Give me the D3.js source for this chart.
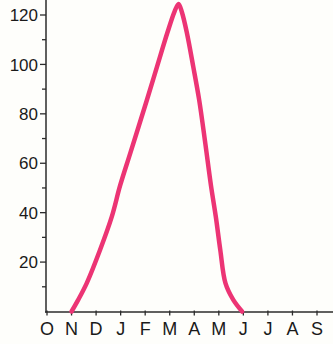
<!DOCTYPE html>
<html>
<head>
<meta charset="utf-8">
<script src="https://cdn.jsdelivr.net/npm/d3@7"></script>
<style>
  html, body { margin: 0; padding: 0; background: #fefefb; }
  svg { display: block; }
</style>
</head>
<body>
<div id="chart"></div>
<script>
// month labels along the bottom, Oct .. Sep
const months = ["O", "N", "D", "J", "F", "M", "A", "M", "J", "J", "A", "S"];
const yTicks = [20, 40, 60, 80, 100, 120];

// curve: position in months (O = 0) and value
const curveMonth = [1.0, 1.27, 1.62, 2.16, 2.64, 2.98, 3.39, 4.07, 4.48, 4.9, 5.2, 5.36, 5.5, 5.70, 5.96, 6.20, 6.45, 6.68, 6.88, 7.06, 7.27, 7.59, 7.95];
const curveValue = [0, 4.7, 11.5, 24.9, 38.4, 51, 64, 85.6, 99, 112.7, 121.5, 124.5, 121, 112.7, 99, 85.6, 68, 51, 38.2, 24.9, 11.5, 4.7, 0];

const W = 333, H = 344;
const margin = { top: 0, right: 0, bottom: 32, left: 46 };

const svg = d3.select("#chart").append("svg")
    .attr("width", W).attr("height", H);

const x = d3.scaleLinear().domain([0, 11]).range([margin.left + 1, 317]);
const y = d3.scaleLinear().domain([0, 120]).range([311.5, 15]);

const axisColor = "#2b2b2b";
const font = "Liberation Sans, Arial, sans-serif";

// y axis line, runs to the top edge
svg.append("line")
    .attr("x1", margin.left).attr("x2", margin.left)
    .attr("y1", 0).attr("y2", y(0) + 1)
    .attr("stroke", axisColor).attr("stroke-width", 1.5);

// x axis line, runs to the right edge
svg.append("line")
    .attr("x1", margin.left - 1).attr("x2", W)
    .attr("y1", y(0) + 0.5).attr("y2", y(0) + 0.5)
    .attr("stroke", axisColor).attr("stroke-width", 1.5);

// minor y ticks every 10, major with labels every 20
const minor = d3.range(10, 130, 20);
svg.selectAll(".ymin").data(minor).enter().append("line")
    .attr("x1", margin.left - 4).attr("x2", margin.left)
    .attr("y1", d => y(d)).attr("y2", d => y(d))
    .attr("stroke", axisColor).attr("stroke-width", 1.3);

svg.selectAll(".ymaj").data(yTicks).enter().append("line")
    .attr("x1", margin.left - 6).attr("x2", margin.left)
    .attr("y1", d => y(d)).attr("y2", d => y(d))
    .attr("stroke", axisColor).attr("stroke-width", 1.3);

svg.selectAll(".ylab").data(yTicks).enter().append("text")
    .attr("x", margin.left - 8).attr("y", d => y(d))
    .attr("dy", "0.36em")
    .attr("text-anchor", "end")
    .attr("fill", "#1a1a1a")
    .style("font-family", font).style("font-size", "17px")
    .text(d => d);

// month ticks and labels
svg.selectAll(".xt").data(months).enter().append("line")
    .attr("x1", (d, i) => x(i)).attr("x2", (d, i) => x(i))
    .attr("y1", y(0) - 1).attr("y2", y(0) + 4)
    .attr("stroke", axisColor).attr("stroke-width", 1.3);

svg.selectAll(".xlab").data(months).enter().append("text")
    .attr("x", (d, i) => x(i)).attr("y", 335)
    .attr("text-anchor", "middle")
    .attr("fill", "#1a1a1a")
    .style("font-family", font).style("font-size", "18px")
    .text(d => d);

// the pink curve
const pts = curveMonth.map((m, i) => [m, curveValue[i]]);
const line = d3.line()
    .x(d => x(d[0])).y(d => y(d[1]))
    .curve(d3.curveCatmullRom.alpha(0.5));

svg.append("path")
    .datum(pts)
    .attr("d", line)
    .attr("fill", "none")
    .attr("stroke", "#ec3474")
    .attr("stroke-width", 4.5)
    .attr("stroke-linecap", "round")
    .attr("stroke-linejoin", "round");
</script>
</body>
</html>
